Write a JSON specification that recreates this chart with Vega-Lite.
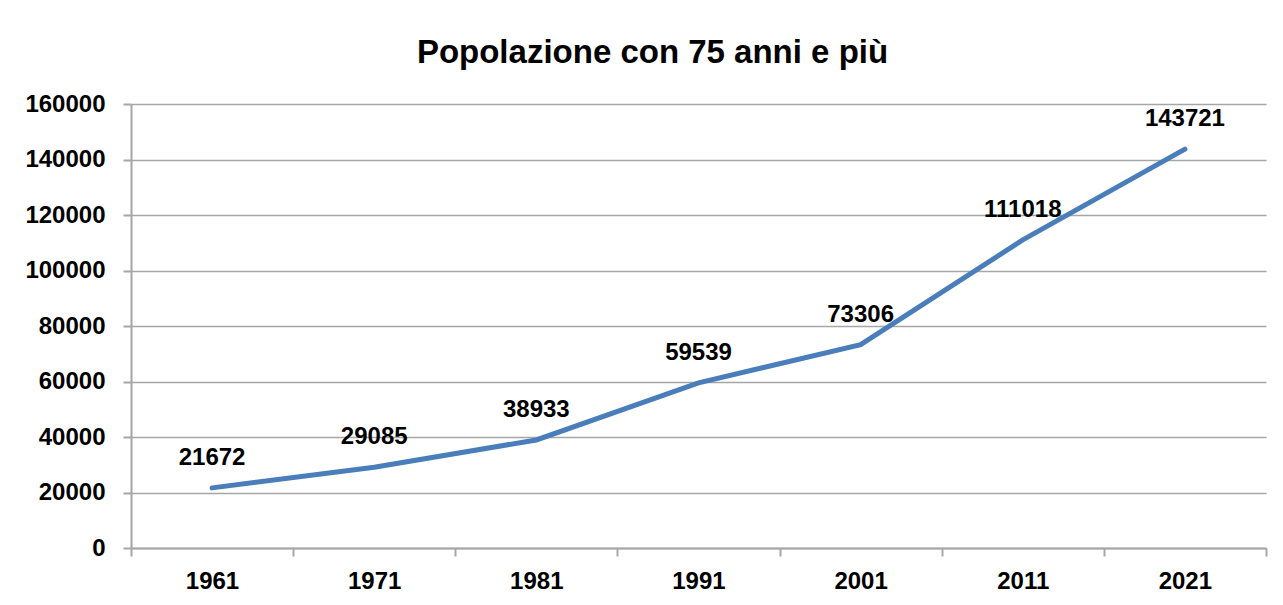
{
  "$schema": "https://vega.github.io/schema/vega-lite/v6.json",
  "width": 1135,
  "height": 444,
  "autosize": {"type": "none"},
  "padding": {"left": 131, "top": 104, "right": 17, "bottom": 57},
  "background": "white",
  "title": {
    "text": "Popolazione con 75 anni e più",
    "font": "Liberation Sans",
    "fontSize": 33,
    "fontWeight": "bold",
    "color": "#000000",
    "anchor": "middle",
    "dx": -46,
    "offset": 22
  },
  "data": {
    "values": [
      {"anno": 1961, "pop": 21672},
      {"anno": 1971, "pop": 29085},
      {"anno": 1981, "pop": 38933},
      {"anno": 1991, "pop": 59539},
      {"anno": 2001, "pop": 73306},
      {"anno": 2011, "pop": 111018},
      {"anno": 2021, "pop": 143721}
    ]
  },
  "config": {
    "view": {"stroke": null},
    "axis": {
      "labelFont": "Liberation Sans",
      "labelFontSize": 24,
      "labelFontWeight": "bold",
      "labelColor": "#000000",
      "domainColor": "#A6A6A6",
      "domainWidth": 2,
      "tickColor": "#A6A6A6",
      "tickWidth": 2,
      "gridColor": "#A6A6A6",
      "gridWidth": 1.5,
      "title": null
    }
  },
  "encoding": {
    "x": {
      "field": "anno",
      "type": "quantitative",
      "scale": {"domain": [1956, 2026], "nice": false, "zero": false},
      "axis": {
        "values": [1956, 1966, 1976, 1986, 1996, 2006, 2016, 2026],
        "grid": false,
        "tickSize": 8,
        "labelPadding": 13,
        "labelOffset": 81,
        "labelExpr": "datum.value < 2026 ? '' + (datum.value + 5) : ''",
        "labelFlush": false,
        "labelOverlap": false
      }
    },
    "y": {
      "field": "pop",
      "type": "quantitative",
      "scale": {"domain": [0, 160000], "nice": false},
      "axis": {
        "values": [0, 20000, 40000, 60000, 80000, 100000, 120000, 140000, 160000],
        "format": "d",
        "grid": true,
        "tickSize": 8,
        "labelPadding": 18
      }
    }
  },
  "layer": [
    {
      "mark": {"type": "line", "color": "#4A7EBB", "strokeWidth": 5, "strokeCap": "round"}
    },
    {
      "mark": {
        "type": "text",
        "font": "Liberation Sans",
        "fontSize": 24,
        "fontWeight": "bold",
        "color": "#000000",
        "dy": -30
      },
      "encoding": {"text": {"field": "pop", "type": "quantitative", "format": "d"}}
    }
  ]
}
